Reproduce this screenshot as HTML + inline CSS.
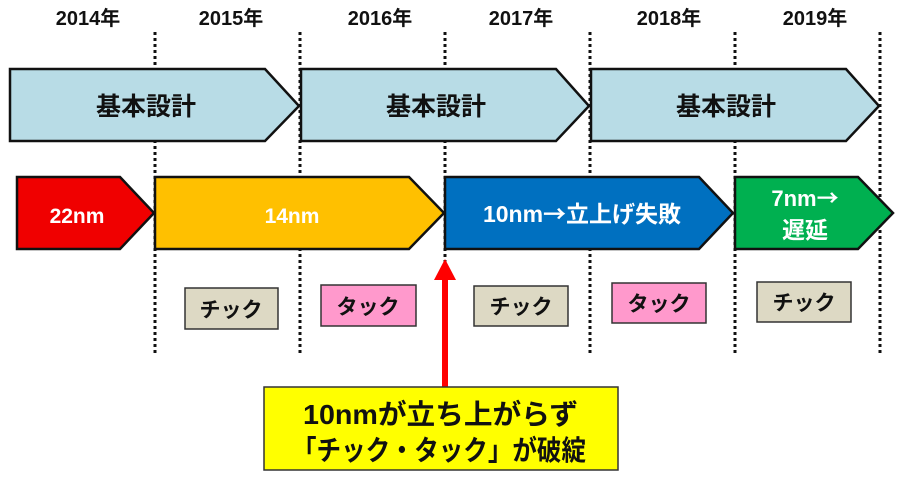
<!DOCTYPE html>
<html><head><meta charset="utf-8"><style>
html,body{margin:0;padding:0;background:#fff;}
svg{display:block;}
text{font-family:"Liberation Sans","Noto Sans CJK JP",sans-serif;font-weight:bold;}
.cjk{font-family:"Noto Sans CJK JP",sans-serif;}
</style></head><body>
<svg width="900" height="479" viewBox="0 0 900 479" xmlns="http://www.w3.org/2000/svg">
<g font-size="20" fill="#111" text-anchor="middle">
<text x="88" y="25">2014年</text>
<text x="231" y="25">2015年</text>
<text x="380" y="25">2016年</text>
<text x="521" y="25">2017年</text>
<text x="669" y="25">2018年</text>
<text x="815" y="25">2019年</text>
</g>
<g stroke="#111" stroke-width="3" stroke-dasharray="3,3">
<line x1="155" y1="32" x2="155" y2="356"/>
<line x1="300" y1="32" x2="300" y2="356"/>
<line x1="445" y1="32" x2="445" y2="356"/>
<line x1="590" y1="32" x2="590" y2="356"/>
<line x1="735" y1="32" x2="735" y2="356"/>
<line x1="880" y1="32" x2="880" y2="356"/>
</g>
<g fill="#b8dce6" stroke="#111" stroke-width="2.5">
<polygon points="10,69 265,69 299,106 265,141 10,141"/>
<polygon points="301,69 556,69 589,106 556,141 301,141"/>
<polygon points="591,69 846,69 879,106 846,141 591,141"/>
</g>
<g font-size="25" fill="#111" text-anchor="middle" font-weight="normal">
<text x="146" y="115">基本設計</text>
<text x="436" y="115">基本設計</text>
<text x="726" y="115">基本設計</text>
</g>
<g stroke="#111" stroke-width="2.5">
<polygon fill="#f00000" points="17,177 120,177 154,213 120,249 17,249"/>
<polygon fill="#ffc000" points="155,177 409,177 444,213 409,249 155,249"/>
<polygon fill="#0070c0" points="445,177 699,177 733,213 699,249 445,249"/>
<polygon fill="#00b050" points="735,177 858,177 893,213 858,249 735,249"/>
</g>
<g fill="#fff" font-size="21" text-anchor="middle">
<text x="77" y="223">22nm</text>
<text x="292" y="223">14nm</text>
<text x="582" y="222" font-size="23">10nm<tspan class="cjk">→</tspan>立上げ失敗</text>
<text x="805" y="206" font-size="22">7nm<tspan class="cjk">→</tspan></text>
<text x="805" y="238" font-size="23">遅延</text>
</g>
<g stroke="#333" stroke-width="1.5">
<rect x="185" y="288" width="93" height="41" fill="#ddd9c4"/>
<rect x="321" y="285" width="95" height="41" fill="#ff99cc"/>
<rect x="474" y="286" width="94" height="40" fill="#ddd9c4"/>
<rect x="612" y="283" width="94" height="40" fill="#ff99cc"/>
<rect x="757" y="282" width="94" height="40" fill="#ddd9c4"/>
</g>
<g fill="#111" font-size="21" text-anchor="middle">
<text x="231" y="317">チック</text>
<text x="368" y="314">タック</text>
<text x="521" y="314">チック</text>
<text x="659" y="311">タック</text>
<text x="804" y="310">チック</text>
</g>
<rect x="442" y="278" width="6" height="110" fill="#f00"/>
<polygon points="434,280 456,280 445,259" fill="#f00"/>
<rect x="264" y="387" width="354" height="83" fill="#ffff00" stroke="#333" stroke-width="1.5"/>
<g fill="#111" font-size="28">
<text x="303" y="424" textLength="275" lengthAdjust="spacingAndGlyphs">10nmが立ち上がらず</text>
<text x="292" y="460" textLength="294" lengthAdjust="spacingAndGlyphs">「チック・タック」が破綻</text>
</g>
</svg>
</body></html>
